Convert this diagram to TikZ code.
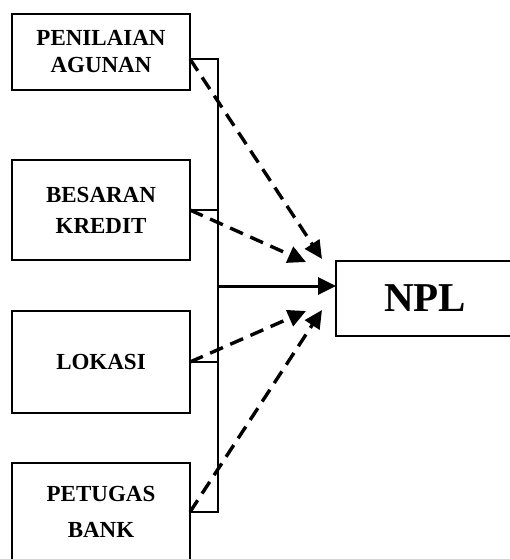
\documentclass[tikz,border=0pt]{standalone}
\usepackage{fontspec}
\setmainfont{Liberation Serif}
\usepackage{tikz}
\usetikzlibrary{arrows.meta, positioning}

\begin{document}
\begin{tikzpicture}[x=1pt, y=-1pt,
    every node/.style={font=\bfseries\fontsize{23}{29}\selectfont},
    box/.style={rectangle, draw, line width=2.4pt, outer sep=0pt, minimum width=178pt, align=center, inner sep=0pt},
    dasharrow/.style={line width=3.4pt, dash pattern=on 14pt off 8pt, arrows = -{Triangle[length=18pt, width=17pt]}}]
    \useasboundingbox (0,0) rectangle (510,559);

    \node (penAgunan) [box, minimum height=76pt, anchor=north west] at (12,14) {PENILAIAN\\[-2pt]AGUNAN};
    \node (besKredit) [box, minimum height=100pt, below=70pt of penAgunan] {BESARAN\\[2pt]KREDIT};
    \node (lokasi) [box, minimum height=102pt, below=51pt of besKredit] {LOKASI};
    \node (petBank) [box, minimum height=98pt, below=50pt of lokasi] {PETUGAS\\[7pt]BANK};
    \node (npl) [box, minimum height=75pt, anchor=west, font=\bfseries\fontsize{41}{45}\selectfont] at (336,298.5) {NPL};

    \coordinate (bus) at (218,286);
    \coordinate (tipA) at (322,259);
    \coordinate (tipB) at (306,262);
    \coordinate (tipC) at (306,311);
    \coordinate (tipD) at (322,310);

    % garis penghubung
    \draw [line width=2.4pt] ([yshift=-7pt]penAgunan.east) -- ([yshift=-7pt]penAgunan.east -| bus) -- (petBank.east -| bus) -- (petBank.east);
    \draw [line width=2.4pt] (besKredit.east) -- (besKredit.east -| bus);
    \draw [line width=2.4pt] (lokasi.east) -- (lokasi.east -| bus);
    \draw [line width=3pt, arrows = -{Triangle[length=18pt, width=17pt]}] (bus) -- (bus -| npl.west);

    \draw [dasharrow] ([yshift=-7pt]penAgunan.east) -- (tipA);
    \draw [dasharrow] (besKredit.east) -- (tipB);
    \draw [dasharrow] (lokasi.east) -- (tipC);
    \draw [dasharrow] (petBank.east) -- (tipD);
\end{tikzpicture}
\end{document}
